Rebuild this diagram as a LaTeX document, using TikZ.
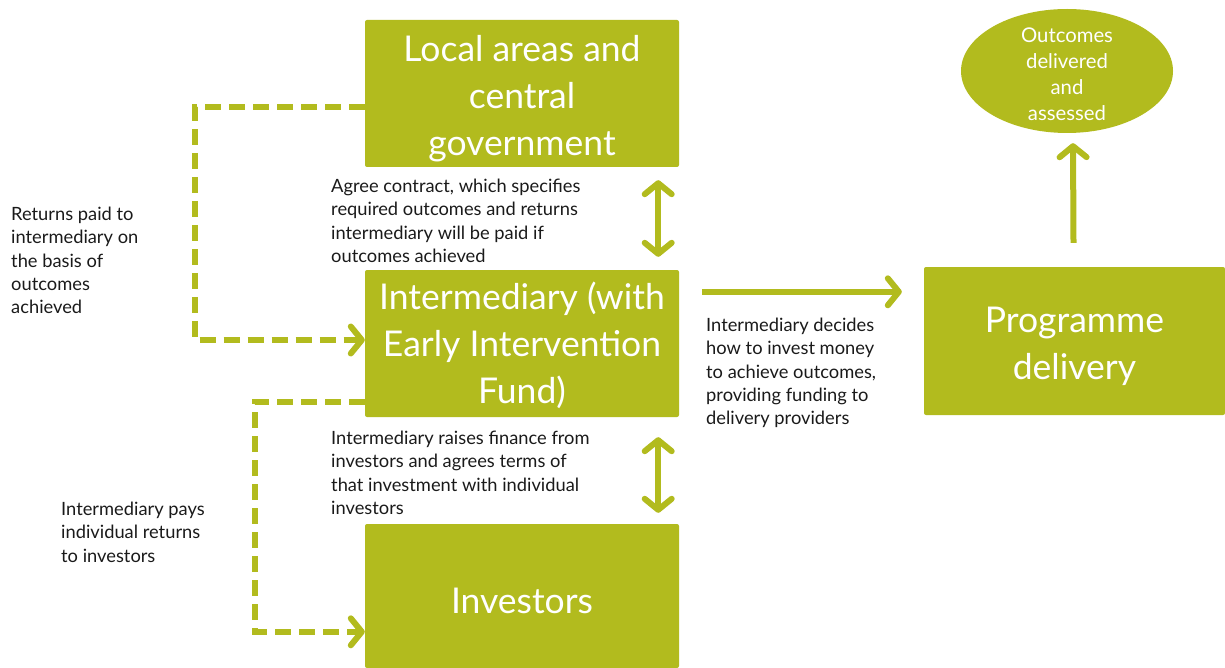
\documentclass[tikz,border=0pt]{standalone}
\usepackage{fontspec}
\setmainfont{Lato}
\usetikzlibrary{arrows.meta,shapes.geometric,calc}
\definecolor{sibgreen}{HTML}{B2BB1E}
\definecolor{lbltext}{HTML}{1A1A1A}
\begin{document}
\begin{tikzpicture}[x=1pt,y=-1pt,
  box/.style={fill=sibgreen, draw=none, rounded corners=2pt, inner sep=0pt},
  boxtext/.style={inner sep=0pt, text=white, align=center, font=\fontsize{35.5}{47}\selectfont},
  lbl/.style={anchor=north west, inner sep=0pt, align=left, text=lbltext,
    font=\fontsize{18.3}{23.3}\selectfont},
  conn/.style={draw=sibgreen, line width=6pt},
  tip/.tip={Straight Barb[round, length=11pt, width=27pt]},
  dashconn/.style={conn, dash pattern=on 16pt off 8pt}
]
\useasboundingbox (0,0) rectangle (1225,668);

\node[box, minimum width=314, minimum height=147] (local) at (522,93.5) {};
\node[box, minimum width=314, minimum height=147] (inter) at (522,343.5) {};
\node[box, minimum width=314, minimum height=144] (inv) at (522,596) {};
\node[box, minimum width=301, minimum height=148] (prog) at (1074.5,341) {};
\node[ellipse, fill=sibgreen, minimum width=212, minimum height=124, inner sep=0pt] (out) at (1067,71) {};

\node[boxtext, yshift=-5pt] (localt) at (local) {Local areas and\\central\\government};
\node[boxtext, yshift=-2pt] (intert) at (inter) {Intermediary (with\\Early Intervention\\Fund)};
\node[boxtext, yshift=-5pt] (invt) at (inv) {Investors};
\node[boxtext, yshift=-5pt] (progt) at (prog) {Programme\\delivery};
\node[inner sep=0pt, text=white, align=center, font=\fontsize{20.3}{26}\selectfont, yshift=-3pt] (outt) at (out) {Outcomes\\delivered\\and\\assessed};

% solid arrows
\draw[conn, tip-tip] ($(local.south east)+(-21,13)$) -- ($(inter.north east)+(-21,-13)$);
\draw[conn, tip-tip] ($(inter.south east)+(-21,20)$) -- ($(inv.north east)+(-21,-11)$);
\draw[conn, -tip] ($(inter.north east)+(23,22)$) -- ($(prog.north west)+(-22,25)$);
\draw[conn, -tip] ($(prog.north)+(-1,-24)$) -- ($(out.south)+(6,10)$);

% dashed arrows
\draw[dashconn, -tip] ($(local.north west)+(0,87)$) -- ++(-170,0) |- ($(inter.west)+(0,-3.5)$);
\draw[dashconn, -tip] ($(inter.south west)+(0,-15)$) -- ++(-110,0) |- ($(inv.north west)+(0,108)$);

% labels
\node[lbl] (l1) at (331,179) {Agree contract, which specifies\\required outcomes and returns\\intermediary will be paid if\\outcomes achieved};
\node[lbl] (l2) at (11,207) {Returns paid to\\intermediary on\\the basis of\\outcomes\\achieved};
\node[lbl] (l3) at (706,318) {Intermediary decides\\how to invest money\\to achieve outcomes,\\providing funding to\\delivery providers};
\node[lbl] (l4) at (331,431) {Intermediary raises finance from\\investors and agrees terms of\\that investment with individual\\investors};
\node[lbl] (l5) at (61,502) {Intermediary pays\\individual returns\\to investors};
\end{tikzpicture}
\end{document}
